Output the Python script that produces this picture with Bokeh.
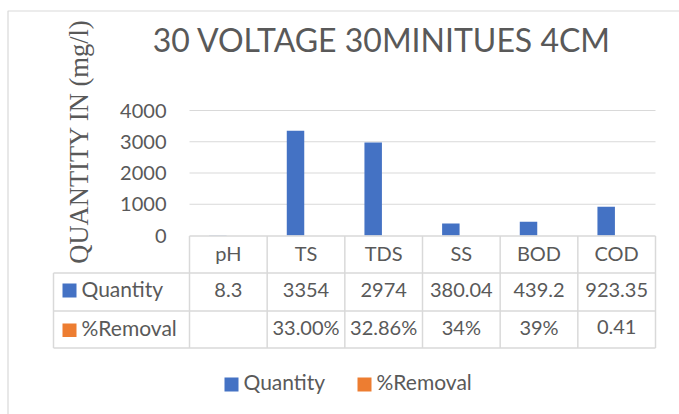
import math
from bokeh.plotting import figure
from bokeh.models import Range1d, LinearAxis, FixedTicker
from bokeh.core.properties import value
from bokeh.embed import file_html
from bokeh.resources import INLINE

# ---- data ----
categories = ["pH", "TS", "TDS", "SS", "BOD", "COD"]
quantity = [8.3, 3354, 2974, 380.04, 439.2, 923.35]
quantity_labels = ["8.3", "3354", "2974", "380.04", "439.2", "923.35"]
removal = [0, 0.33, 0.3286, 0.34, 0.39, 0.41]
removal_labels = ["", "33.00%", "32.86%", "34%", "39%", "0.41"]
series_names = ["Quantity", "%Removal"]
y_ticks = [0, 1000, 2000, 3000, 4000]
title_text = "30 VOLTAGE 30MINITUES 4CM"
y_title = "QUANTITY IN (mg/l)"

# ---- style ----
BLUE = "#4472C4"
ORANGE = "#ED7D31"
TXT = "#595959"
GRID = "#D9D9D9"
FONT = "Lato"
BL = 0.45  # baseline correction (em)

W, H = 679, 414
plot_left, col_w = 189.0, 466.0 / 6
zero_px, px_per_unit = 235.0, 125.0 / 4000

p = figure(width=W, height=H, output_backend="svg", toolbar_location=None,
           x_axis_type=None, y_axis_type=None, min_border=0,
           x_range=Range1d(-plot_left / col_w, (W - plot_left) / col_w),
           y_range=Range1d(-(H - zero_px) / px_per_unit, zero_px / px_per_unit))
p.outline_line_color = None
p.background_fill_color = "white"
p.border_fill_color = "white"
p.extra_y_ranges = {"px": Range1d(H, 0)}
p.extra_x_ranges = {"px": Range1d(0, W)}

# chart border
p.quad(left=[7.5], right=[W + 50], top=[10.5], bottom=[H + 50],
       fill_color=None, line_color=GRID, line_width=1.2,
       x_range_name="px", y_range_name="px")

n = len(categories)
# gridlines (0 is the table top border)
gt = [t for t in y_ticks if t != 0]
p.segment(x0=[0] * len(gt), x1=[n] * len(gt), y0=gt, y1=gt,
          line_color=GRID, line_width=1.2)

# y axis at x=0
ax = LinearAxis(fixed_location=0, ticker=FixedTicker(ticks=y_ticks))
ax.axis_line_color = None
ax.major_tick_line_color = None
ax.minor_tick_line_color = None
ax.major_tick_in = 0
ax.major_tick_out = 0
ax.major_label_standoff = 23
ax.major_label_text_font = FONT
ax.major_label_text_font_size = "20px"
ax.major_label_text_color = TXT
p.add_layout(ax, "left")

# bars
xq = [i + 0.5 - 0.135 for i in range(n)]
xr = [i + 0.5 + 0.095 for i in range(n)]
p.vbar(x=xq, top=quantity, bottom=0, width=0.225, fill_color=BLUE, line_color=None)
p.vbar(x=xr, top=removal, bottom=0, width=0.225, fill_color=ORANGE, line_color=None)

# data table lines (x in category units, y in pixel units)
t_top, r1, r2, t_bot = 235.5, 272.5, 310.5, 347.5
lab_left = (53 - plot_left) / col_w
p.segment(x0=list(range(n + 1)), x1=list(range(n + 1)),
          y0=[t_top] * (n + 1), y1=[t_bot] * (n + 1),
          line_color=GRID, line_width=1.5, y_range_name="px")
p.segment(x0=[lab_left], x1=[lab_left], y0=[r1], y1=[t_bot],
          line_color=GRID, line_width=1.5, y_range_name="px")
p.segment(x0=[0, lab_left, lab_left, lab_left], x1=[n] * 4,
          y0=[t_top, r1, r2, t_bot], y1=[t_top, r1, r2, t_bot],
          line_color=GRID, line_width=1.5, y_range_name="px")

fs = 20
off = BL * fs
cx = [i + 0.5 for i in range(n)]
tsty = dict(text_font=value(FONT), text_font_size=value(f"{fs}px"), text_color=TXT,
            text_align="center", text_baseline="alphabetic", y_range_name="px")
p.text(x=cx, y=[261 - off] * n, text=categories, **tsty)
p.text(x=cx, y=[298 - off] * n, text=quantity_labels, **tsty)
p.text(x=cx, y=[335 - off] * n, text=removal_labels, **tsty)

# row headers with keys
lfs = 21
loff = BL * lfs
lsty = dict(text_font=value(FONT), text_font_size=value(f"{lfs}px"), text_color=TXT,
            text_align="left", text_baseline="alphabetic",
            x_range_name="px", y_range_name="px")
p.quad(left=[62, 62], right=[76, 76], top=[283, 323], bottom=[297, 336.5],
       fill_color=[BLUE, ORANGE], line_color=None, x_range_name="px", y_range_name="px")
p.text(x=[81, 81], y=[297.7 - loff, 336 - loff], text=series_names, **lsty)

# legend
p.quad(left=[224, 357], right=[238, 371], top=[377, 377], bottom=[391, 391],
       fill_color=[BLUE, ORANGE], line_color=None, x_range_name="px", y_range_name="px")
p.text(x=[243, 376], y=[390.7 - loff, 390.7 - loff], text=series_names, **lsty)

# title
tfs = 32
p.text(x=[381.5], y=[53 - BL * tfs], text=[title_text], text_font=value(FONT),
       text_font_size=value(f"{tfs}px"), text_color=TXT, text_align="center",
       text_baseline="alphabetic", x_range_name="px", y_range_name="px")

# y-axis title
yfs = 26.5
p.text(x=[90 - BL * yfs], y=[141], text=[y_title], angle=math.pi / 2,
       text_font=value("Liberation Serif"), text_font_size=value(f"{yfs}px"),
       text_color=TXT, text_align="center", text_baseline="alphabetic",
       x_range_name="px", y_range_name="px")

open("out.html", "w").write(file_html(p, INLINE))
